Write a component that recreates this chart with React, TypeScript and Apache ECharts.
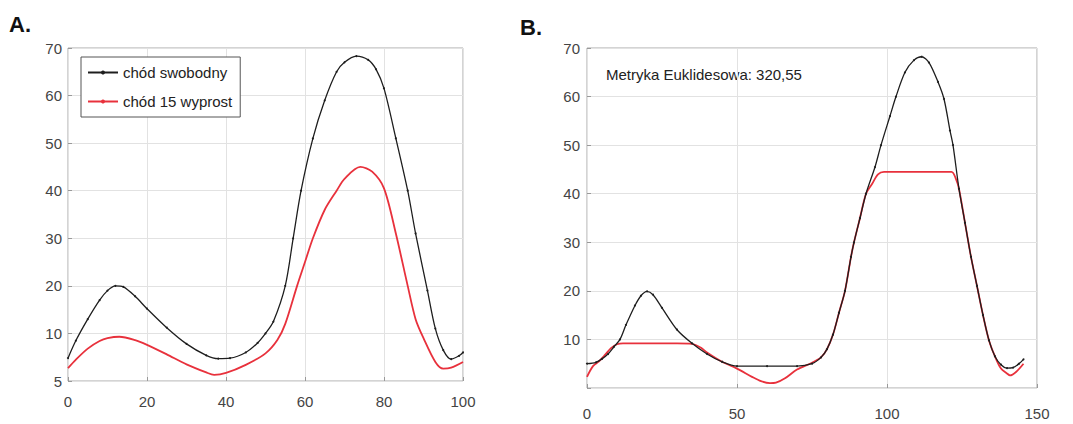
import React, { useEffect, useRef } from "react";
import * as echarts from "echarts";

// Panel A: normalized gait cycle (0-100 %)
const leftBlackX = [0, 2, 5, 8, 10, 12, 14, 17, 20, 25, 30, 35, 38, 41, 45, 48, 50, 52, 55, 57, 59, 62, 65, 68, 70, 73, 76, 78, 80, 83, 86, 88, 91, 93, 95, 97, 99, 100];
const leftBlackY = [4.8, 8.5, 13, 17, 19, 20, 19.8, 17.8, 15.2, 11.2, 7.8, 5.4, 4.7, 4.8, 6, 8, 10, 12.5, 20, 30, 40, 51, 59, 65, 67, 68.3, 67.5, 65.5, 61.5, 51, 40, 31, 19, 11, 6.5, 4.6, 5.3, 6];
const leftRedX = [0, 2, 5, 8, 10, 13, 17, 20, 25, 30, 35, 37, 40, 45, 50, 53, 55, 58, 60, 62, 65, 68, 70, 74, 77, 80, 83, 86, 88, 90, 93, 95, 97, 100];
const leftRedY = [2.7, 4.5, 6.8, 8.4, 9, 9.3, 8.6, 7.6, 5.6, 3.5, 1.8, 1.3, 1.7, 3.4, 5.8, 8.6, 12, 20, 25, 30, 36, 40, 42.5, 45, 44, 40.5, 31, 20, 13, 9, 4, 2.6, 2.8, 4];

// Panel B: DTW-aligned series (0-146 samples)
const rightBlackX = [0, 3, 5, 7, 9, 11, 13, 16, 18, 20, 22, 25, 30, 35, 40, 45, 50, 60, 70, 75, 78, 80, 82, 84, 86, 88, 89, 91, 93, 96, 98, 101, 103, 106, 109, 111.5, 114, 117, 119, 121, 122, 124, 126, 128, 130, 132, 134, 136, 138, 140, 142, 144, 145.5];
const rightBlackY = [5, 5.3, 6, 7, 8.5, 10, 13, 17, 19, 19.9, 19.2, 16.5, 12, 9.2, 7, 5.4, 4.5, 4.5, 4.5, 5, 6.3, 8, 11, 15.5, 20, 27, 30, 35, 40, 45.5, 50, 56, 60, 65, 67.5, 68.2, 67, 63, 59.5, 53, 50, 41, 34, 27, 21, 15, 9.8, 6.5, 4.8, 4.1, 4.2, 5, 5.9];
const rightRedX = [0, 2, 4, 6, 8, 10, 12, 20, 30, 35, 38, 40, 45, 50, 55, 58, 61, 63, 66, 70, 75, 78, 80, 82, 84, 86, 88, 89, 91, 93, 95, 97, 99, 110, 121.5, 123, 124, 126, 128, 130, 132, 134, 136, 138, 140, 141, 143, 145.5];
const rightRedY = [2.3, 4.5, 5.5, 6.8, 8.2, 9, 9.2, 9.2, 9.2, 9.1, 8.3, 7.3, 5.4, 4, 2.3, 1.4, 1, 1.1, 2, 3.8, 5.2, 6.3, 8, 11, 15.5, 20, 27, 30, 35, 40, 42, 44, 44.5, 44.5, 44.5, 43, 41, 34, 27, 21, 15, 9.8, 6.5, 4, 3, 2.6, 3.3, 5];

const seriesNames = ["chód swobodny", "chód 15 wyprost"];
const annotation = "Metryka Euklidesowa: 320,55";
const leftXTicks = { min: 0, max: 100, interval: 20 };
const rightXTicks = { min: 0, max: 150, interval: 50 };
const yTicks = { min: 0, max: 70, interval: 10 };

const zip = (xs: number[], ys: number[]) => xs.map((x, i) => [x, ys[i]]);

const FONT = "Liberation Sans, Arial, sans-serif";
const BLACK = "#1e1e1e";
const RED = "#e8313c";

export default function App() {
  const ref = useRef<HTMLDivElement>(null);
  useEffect(() => {
    if (!ref.current) return;
    const chart = echarts.init(ref.current, undefined, { renderer: "svg" });
    const axisLabel = { color: "#444", fontSize: 15, fontFamily: FONT };
    const splitLine = { show: true, lineStyle: { color: "#e2e2e2", width: 1 } };
    const axisLine = { show: false };
    const axisTick = { show: true, inside: true, length: 4, lineStyle: { color: "#999" } };
    const gridBase = { show: true, borderColor: "#a8a8a8", borderWidth: 1, backgroundColor: "#fff" };
    const lineBase = { smooth: 0.3, animation: false };
    chart.setOption({
      animation: false,
      backgroundColor: "#fff",
      grid: [
        { ...gridBase, left: 68, top: 48, width: 395, height: 333 },
        { ...gridBase, left: 587, top: 48, width: 450, height: 340 },
      ],
      xAxis: [
        { gridIndex: 0, type: "value", ...leftXTicks, axisLabel: { ...axisLabel, margin: 13 }, splitLine, axisLine, axisTick },
        { gridIndex: 1, type: "value", ...rightXTicks, axisLabel: { ...axisLabel, margin: 18 }, splitLine, axisLine, axisTick },
      ],
      yAxis: [
        { gridIndex: 0, type: "value", ...yTicks, axisLabel: { ...axisLabel, margin: 6, formatter: (v: number) => (v === 0 ? "5" : String(v)) }, splitLine, axisLine, axisTick },
        { gridIndex: 1, type: "value", ...yTicks, axisLabel: { ...axisLabel, margin: 7, formatter: (v: number) => (v === 0 ? "" : String(v)) }, splitLine, axisLine, axisTick },
      ],
      legend: {
        data: seriesNames,
        orient: "vertical",
        left: 81,
        top: 57,
        backgroundColor: "#fff",
        borderColor: "#555",
        borderWidth: 1,
        borderRadius: 0,
        padding: [8, 8, 8, 6],
        itemWidth: 30,
        itemHeight: 5,
        itemGap: 14,
        selectedMode: false,
        textStyle: { color: "#222", fontSize: 15, fontFamily: FONT },
      },
      series: [
        { ...lineBase, name: seriesNames[1], type: "line", xAxisIndex: 0, yAxisIndex: 0, data: zip(leftRedX, leftRedY), symbol: "none", lineStyle: { color: RED, width: 1.8 }, itemStyle: { color: RED } },
        { ...lineBase, name: seriesNames[0], type: "line", xAxisIndex: 0, yAxisIndex: 0, data: zip(leftBlackX, leftBlackY), symbol: "circle", symbolSize: 2, showSymbol: true, lineStyle: { color: BLACK, width: 1.3 }, itemStyle: { color: BLACK } },
        { ...lineBase, name: seriesNames[1], type: "line", xAxisIndex: 1, yAxisIndex: 1, data: zip(rightRedX, rightRedY), symbol: "none", lineStyle: { color: RED, width: 1.8 }, itemStyle: { color: RED } },
        { ...lineBase, name: seriesNames[0], type: "line", xAxisIndex: 1, yAxisIndex: 1, data: zip(rightBlackX, rightBlackY), symbol: "circle", symbolSize: 2, showSymbol: true, lineStyle: { color: BLACK, width: 1.3 }, itemStyle: { color: BLACK } },
      ],
      graphic: [
        { type: "text", left: 9, top: 13, style: { text: "A.", font: `bold 22px ${FONT}`, fill: "#111" } },
        { type: "text", left: 520, top: 16, style: { text: "B.", font: `bold 22px ${FONT}`, fill: "#111" } },
        { type: "text", left: 606, top: 67, style: { text: annotation, font: `15px ${FONT}`, fill: "#222" } },
      ],
    });
    return () => chart.dispose();
  }, []);
  return <div ref={ref} style={{ position: "fixed", left: 0, top: 0, width: 1073, height: 424 }} />;
}
